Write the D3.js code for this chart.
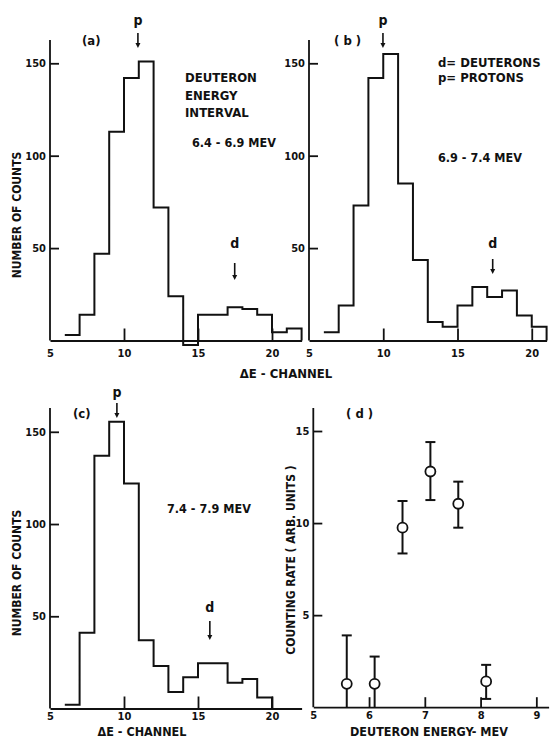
<!DOCTYPE html>
<html>
<head>
<meta charset="utf-8">
<script src="https://cdn.jsdelivr.net/npm/d3@7/dist/d3.min.js"></script>
<style>
	body { margin: 0; background: #fff; }
	svg text { font-family: "DejaVu Sans Condensed", "DejaVu Sans", sans-serif; fill: #111; font-weight: bold; }
	.tick text { font-size: 11px; }
	.axis path, .axis line { stroke: #111; stroke-width: 1.8; }
</style>
</head>
<body>
<svg id="chart" width="550" height="739"></svg>
<script>
// histogram bins (lower channel edge of each bin) and counts
const binsA   = [6, 7, 8, 9, 10, 11, 12, 13, 14, 15, 16, 17, 18, 19, 20, 21];
const countsA = [3, 14, 47, 113, 142, 151, 72, 24, -2.5, 14, 14, 18, 17, 14, 4.5, 6.5];

const binsB   = [6, 7, 8, 9, 10, 11, 12, 13, 14, 15, 16, 17, 18, 19, 20];
const countsB = [4.5, 19, 73, 142, 155, 85, 43.5, 10, 7.5, 19, 29, 23.5, 27, 13.5, 7.5];

const binsC   = [6, 7, 8, 9, 10, 11, 12, 13, 14, 15, 16, 17, 18, 19];
const countsC = [2, 41, 137, 155.5, 122, 37, 23, 9, 17, 24.5, 24.5, 14, 16, 6];

// panel (d): counting rate vs deuteron energy
const energy    = [5.6, 6.1, 6.6, 7.1, 7.6, 8.1];
const rate      = [1.27, 1.27, 9.75, 12.8, 11.05, 1.4];
const rateUpper = [3.9, 2.75, 11.2, 14.4, 12.25, 2.3];
const rateLower = [0, 0, 8.35, 11.25, 9.75, 0.45];

const channelTicks = [5, 10, 15, 20];
const countTicks   = [50, 100, 150];
const energyTicks  = [5, 6, 7, 8, 9];
const rateTicks    = [5, 10, 15];

const svg = d3.select("#chart");

function makePanel(p) {
	const x = d3.scaleLinear().domain(p.xd).range([p.left, p.right]);
	const y = d3.scaleLinear().domain(p.yd).range([p.bottom, p.top]);
	const g = svg.append("g");

	g.append("g")
		.attr("class", "axis")
		.attr("transform", `translate(0,${p.bottom})`)
		.call(d3.axisBottom(x).tickValues(p.xt).tickSizeInner(-p.xTick).tickSizeOuter(0).tickPadding(p.xPad).tickFormat(d3.format("d")))
		.call((a) => a.selectAll(".tick").filter((d) => d === p.xd[0]).select("line").remove());

	g.append("g")
		.attr("class", "axis")
		.attr("transform", `translate(${p.left},0)`)
		.call(d3.axisLeft(y).tickValues(p.yt).tickSizeInner(-9).tickSizeOuter(0).tickPadding(4).tickFormat(d3.format("d")))
		.call((a) => a.select(".domain").attr("d", `M0,${p.bottom}V${p.top}`));

	g.selectAll(".tick text").attr("fill", "#111");
	return { x, y, g };
}

function drawHist(panel, bins, counts, end) {
	const pts = bins.map((b, i) => [b, counts[i]]);
	pts.push([end, counts[counts.length - 1]], [end, 0]);
	const line = d3.line()
		.x((d) => panel.x(d[0]))
		.y((d) => panel.y(d[1]))
		.curve(d3.curveStepAfter);
	panel.g.append("path")
		.attr("d", line(pts))
		.attr("fill", "none")
		.attr("stroke", "#111")
		.attr("stroke-width", 2);
}

function arrow(g, x, yLabel, y0, y1, label) {
	g.append("text").attr("x", x).attr("y", yLabel).attr("text-anchor", "middle")
		.attr("dominant-baseline", "central").style("font-size", "14px").text(label);
	g.append("line").attr("x1", x).attr("x2", x).attr("y1", y0).attr("y2", y1 - 3)
		.attr("stroke", "#111").attr("stroke-width", 1.6);
	g.append("path").attr("d", `M${x - 2.5},${y1 - 5}L${x + 2.5},${y1 - 5}L${x},${y1}Z`).attr("fill", "#111");
}

function textLine(g, x, y, s, size, anchor) {
	g.append("text").attr("x", x).attr("y", y).attr("dominant-baseline", "central")
		.attr("text-anchor", anchor || "start").style("font-size", size + "px").text(s);
}

function yLabel(g, x, y, s) {
	g.append("text").attr("transform", `translate(${x},${y}) rotate(-90)`)
		.attr("text-anchor", "middle").attr("dominant-baseline", "central")
		.style("font-size", "12px").text(s);
}

// (a)
const pa = makePanel({ left: 50, right: 301.6, top: 40, bottom: 340.5, xd: [5, 22], yd: [0, 162.6], xt: channelTicks, yt: countTicks, xTick: 12, xPad: 9 });
drawHist(pa, binsA, countsA, 22);
textLine(pa.g, 82, 40, "(a)", 13);
arrow(pa.g, pa.x(10.94), 20, 33, 48, "p");
arrow(pa.g, pa.x(17.48), 243, 263, 280, "d");
textLine(pa.g, 185, 77, "DEUTERON", 13);
textLine(pa.g, 185, 95, "ENERGY", 13);
textLine(pa.g, 185, 112, "INTERVAL", 13);
textLine(pa.g, 192, 142, "6.4 - 6.9 MEV", 12.5);
yLabel(pa.g, 17, 215, "NUMBER OF COUNTS");
textLine(pa.g, 286, 373, "\u0394E - CHANNEL", 13, "middle");

// (b)
const pb = makePanel({ left: 309, right: 546.6, top: 40, bottom: 340.5, xd: [5, 21], yd: [0, 162.6], xt: channelTicks, yt: countTicks, xTick: 12, xPad: 9 });
drawHist(pb, binsB, countsB, 21);
textLine(pb.g, 334, 40, "( b )", 13);
arrow(pb.g, pb.x(9.98), 20, 33, 48, "p");
arrow(pb.g, pb.x(17.37), 243, 259, 274, "d");
textLine(pb.g, 438, 62, "d= DEUTERONS", 13);
textLine(pb.g, 438, 77, "p= PROTONS", 13);
textLine(pb.g, 438, 157, "6.9 - 7.4  MEV", 12.5);

// (c)
const pc = makePanel({ left: 50, right: 301.6, top: 408, bottom: 708.5, xd: [5, 22], yd: [0, 162.9], xt: channelTicks, yt: countTicks, xTick: 12, xPad: 4 });
drawHist(pc, binsC, countsC, 20);
textLine(pc.g, 73, 413, "(c)", 13);
arrow(pc.g, pc.x(9.52), 392, 403, 418, "p");
arrow(pc.g, pc.x(15.8), 607, 621, 640, "d");
textLine(pc.g, 167, 508, "7.4 - 7.9 MEV", 12.5);
yLabel(pc.g, 17, 573, "NUMBER OF COUNTS");
textLine(pc.g, 142, 731, "\u0394E - CHANNEL", 12.5, "middle");

// (d)
const pd = makePanel({ left: 313.3, right: 548.6, top: 408, bottom: 707.2, xd: [5, 9.22], yd: [0, 16.25], xt: energyTicks, yt: rateTicks, xTick: 10, xPad: 4 });
textLine(pd.g, 346, 413, "( d )", 13);
yLabel(pd.g, 291, 560, "COUNTING RATE  ( ARB. UNITS )");
textLine(pd.g, 429, 731, "DEUTERON ENERGY- MEV", 12.5, "middle");

const pts = pd.g.selectAll("g.pt")
	.data(energy.map((e, i) => ({ e, r: rate[i], hi: rateUpper[i], lo: rateLower[i] })))
	.enter().append("g").attr("class", "pt");

pts.append("line")
	.attr("x1", (d) => pd.x(d.e)).attr("x2", (d) => pd.x(d.e))
	.attr("y1", (d) => pd.y(d.lo)).attr("y2", (d) => pd.y(d.hi))
	.attr("stroke", "#111").attr("stroke-width", 2);
pts.append("line")
	.attr("x1", (d) => pd.x(d.e) - 5).attr("x2", (d) => pd.x(d.e) + 5)
	.attr("y1", (d) => pd.y(d.hi)).attr("y2", (d) => pd.y(d.hi))
	.attr("stroke", "#111").attr("stroke-width", 2);
pts.filter((d) => d.lo > 0).append("line")
	.attr("x1", (d) => pd.x(d.e) - 5).attr("x2", (d) => pd.x(d.e) + 5)
	.attr("y1", (d) => pd.y(d.lo)).attr("y2", (d) => pd.y(d.lo))
	.attr("stroke", "#111").attr("stroke-width", 2);
pts.append("circle")
	.attr("cx", (d) => pd.x(d.e)).attr("cy", (d) => pd.y(d.r)).attr("r", 5)
	.attr("fill", "#fff").attr("stroke", "#111").attr("stroke-width", 1.8);
</script>
</body>
</html>
